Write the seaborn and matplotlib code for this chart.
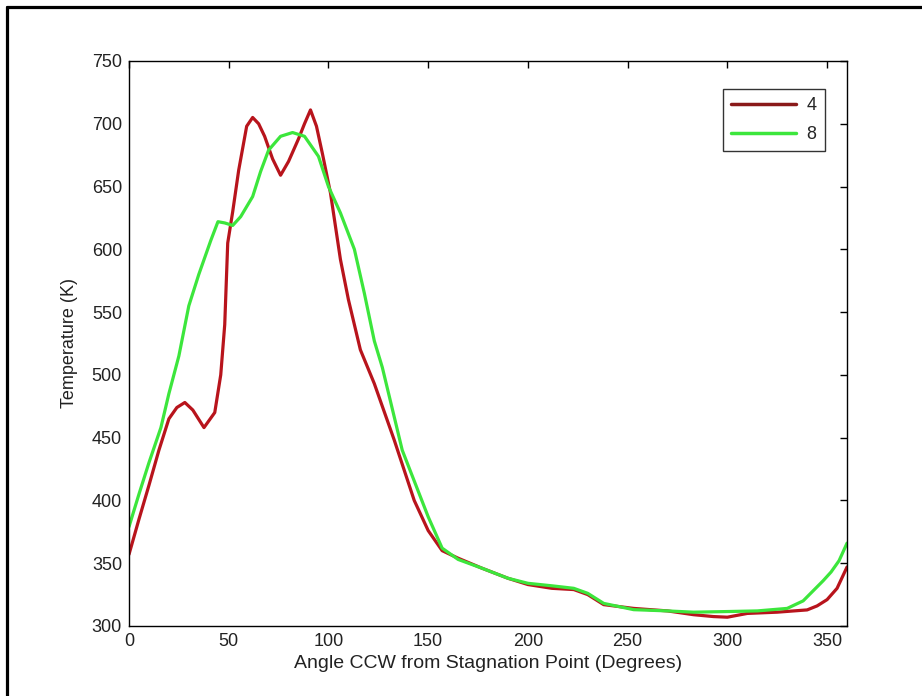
import matplotlib
matplotlib.use("Agg")
import matplotlib.pyplot as plt
from matplotlib.lines import Line2D
import seaborn as sns
import pandas as pd

# Series "4"
angle_4 = [0, 5, 10, 15, 20, 24, 28, 32, 37.6, 43, 46, 48, 49.5, 52, 55, 59, 62, 65, 68, 72,
           76, 80, 85, 88, 91, 94, 97, 101, 106, 110, 116, 123, 133, 143, 150, 157, 165,
           177, 190, 200, 212, 223, 230, 238, 253, 270, 283, 293, 300, 310, 325, 340, 345,
           350, 355, 360]
temp_4 = [357, 385, 412, 440, 465, 474, 478, 472, 458, 470, 500, 540, 605, 630, 663, 698, 705,
          700, 690, 672, 659, 670, 688, 700, 711, 698, 676, 645, 592, 560, 520, 493, 448,
          400, 376, 360, 354, 346, 338, 333, 330, 329, 325, 317, 314, 312, 309, 307.5, 307,
          310, 311, 312.8, 316, 321, 330, 347]

# Series "8"
angle_8 = [0, 5, 10, 16, 20, 25, 30, 35, 41, 44.6, 48, 52, 56, 62, 66, 70, 76, 82, 88, 95,
           100, 106, 113, 118, 123, 127, 137, 150, 157, 165, 177, 190, 200, 212, 223, 230,
           238, 253, 270, 283, 300, 315, 330, 338, 343, 348, 352, 356, 360]
temp_8 = [379, 405, 430, 458, 485, 515, 555, 580, 607, 622, 621, 619, 626, 642, 662, 679,
          690, 693, 690, 674, 650, 629, 600, 565, 527, 506, 440, 387, 362, 353, 346, 338,
          334, 332, 330, 326, 318, 313, 312, 311, 311.5, 312, 314, 320, 328, 336, 343, 352,
          366]

series_labels = ["4", "8"]
series_colors = ["#b8141c", "#3ce63c"]

x_ticks = [0, 50, 100, 150, 200, 250, 300, 350]
y_ticks = [300, 350, 400, 450, 500, 550, 600, 650, 700, 750]

df = pd.concat([
    pd.DataFrame({"angle": angle_4, "temp": temp_4, "series": series_labels[0]}),
    pd.DataFrame({"angle": angle_8, "temp": temp_8, "series": series_labels[1]}),
], ignore_index=True)

sns.set_theme(style="white")
plt.rcParams["font.family"] = ["Liberation Sans", "DejaVu Sans"]

fig = plt.figure(figsize=(9.22, 6.96), dpi=100)
ax = fig.add_axes([0.1399, 0.1006, 0.7788, 0.8118])

sns.lineplot(data=df, x="angle", y="temp", hue="series", palette=series_colors,
             hue_order=series_labels, linewidth=2.3, sort=False, estimator=None, ax=ax)

ax.set_xlim(0, 360)
ax.set_ylim(300, 750)
ax.set_xticks(x_ticks)
ax.set_yticks(y_ticks)
ax.tick_params(direction="in", length=5, width=1, color="black", top=True, right=True,
               labelsize=13, labelcolor="#222222", pad=5)
for s in ax.spines.values():
    s.set_color("black")
    s.set_linewidth(1.0)
ax.set_xlabel("Angle CCW from Stagnation Point (Degrees)", fontsize=14, color="#222222", labelpad=4)
ax.set_ylabel("Temperature (K)", fontsize=13, color="#222222", labelpad=10)

leg = ax.legend(loc="upper right", bbox_to_anchor=(0.9765, 0.9595), fontsize=13,
                handlelength=3.6, frameon=True, fancybox=False, borderpad=0.45,
                labelspacing=0.65, handletextpad=0.6, borderaxespad=0.3)
leg.get_frame().set_edgecolor("black")
leg.get_frame().set_linewidth(1.0)
for h, c in zip(leg.get_lines(), ["#8a1a1a", "#3ce63c"]):
    h.set_color(c)
    h.set_linewidth(2.5)

# outer frame (left and top lines)
fig.add_artist(Line2D([0.0076, 0.0076], [0.0, 0.9905], transform=fig.transFigure,
                      color="black", linewidth=2.3))
fig.add_artist(Line2D([0.0076, 1.0], [0.9905, 0.9905], transform=fig.transFigure,
                      color="black", linewidth=2.3))

fig.savefig("out.png", dpi=100)
